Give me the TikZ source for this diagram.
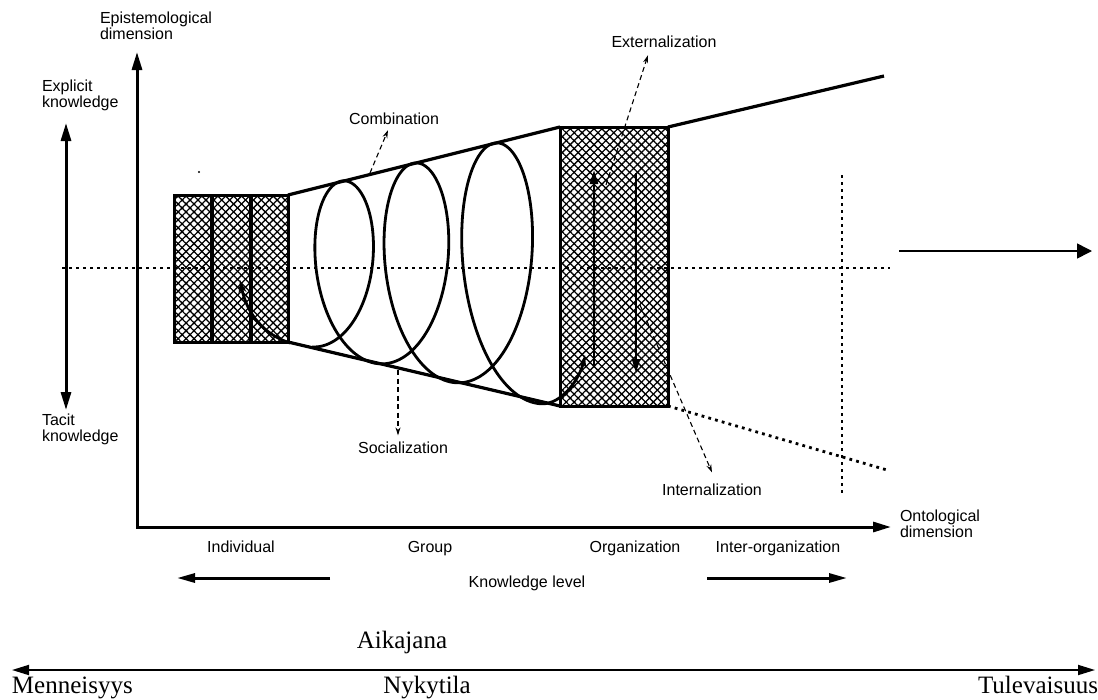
\documentclass[tikz,border=0pt]{standalone}
\usepackage{fontspec}
\setmainfont{Liberation Serif}
\setsansfont{Liberation Sans}
\usetikzlibrary{arrows.meta,patterns.meta}

\begin{document}
\begin{tikzpicture}[x=1pt, y=-1pt, font=\sffamily\fontsize{16}{16}\selectfont,
	every node/.style={inner sep=0pt, outer sep=0pt},
	lbl/.style={align=left},
	thickline/.style={line width=3.2pt},
	axis/.style={line width=3pt, {Triangle[length=18pt,width=10pt]}-{Triangle[length=18pt,width=10pt]}},
	dotline/.style={line width=2.8pt, dash pattern=on 2.8pt off 4.2pt},
	dasharrow/.style={line width=1.1pt, dash pattern=on 5pt off 3.5pt, -{Stealth[length=8pt,width=5pt]}},
	hatchbox/.style={draw, line width=3pt,
		preaction={pattern={Lines[angle=45,distance=5.6pt,line width=1.3pt]}},
		preaction={pattern={Lines[angle=-45,distance=5.6pt,line width=1.3pt]}}},
	spiral/.style={line width=2.8pt, line join=round, -{Stealth[length=13pt,width=8pt]}},
	orgarrow/.style={line width=2.4pt, -{Triangle[length=14pt,width=8pt]}},
	timefont/.style={font=\rmfamily\fontsize{25}{25}\selectfont},
	line join=miter]

	\useasboundingbox (0,0) rectangle (1098,699);

	% Laatikot
	\node[hatchbox, minimum width=114pt, minimum height=147pt] (indiv) at (231,268.5) {};
	\draw[thickline] ([xshift=38pt]indiv.north west) -- ([xshift=38pt]indiv.south west);
	\draw[thickline] ([xshift=77pt]indiv.north west) -- ([xshift=77pt]indiv.south west);
	\node[hatchbox, minimum width=108pt, minimum height=279pt] (orgbox) at (614,266.5) {};
	\fill (199,172) circle (1.2);

	% Kartio
	\coordinate (upend) at (884,76);
	\coordinate (lowend) at (887,470);
	\draw[thickline] (indiv.north east) -- (orgbox.north west);
	\draw[thickline] (indiv.south east) -- (orgbox.south west);
	\draw[thickline] (orgbox.north east) -- (upend);
	\draw[dotline] (orgbox.south east) -- (lowend);

	% Akselit
	\coordinate (origin) at (137,527);
	\coordinate (epitip) at (137,52);
	\coordinate (ontotip) at (891,527);
	\draw[axis] (epitip) -- (origin) -- (ontotip);
	\coordinate (exptip) at (66,123);
	\coordinate (tactip) at (66,410);
	\draw[axis] (exptip) -- (tactip);

	% Pisteviivat
	\coordinate (midleft) at (62,268);
	\coordinate (midright) at (890,268);
	\draw[dotline] (midleft) -- (midright);
	\coordinate (vtop) at (842,175);
	\coordinate (vbot) at (842,494);
	\draw[dotline] (vtop) -- (vbot);
	\coordinate (fwdstart) at (899,251);
	\coordinate (fwdend) at (1092,251);
	\draw[line width=1.6pt, -{Triangle[length=15pt,width=15pt]}] (fwdstart) -- (fwdend);

	% Spiraali
	\coordinate (spiralend) at (585,355);
	\draw[spiral] plot[variable=\u, domain=-1:5, samples=400, smooth]
		({345+34*\u+1.06*\u*\u-(45+2.5*\u)*sin(180*\u)}, {268-(73+0.248*(57+34*\u+1.06*\u*\u))*cos(180*\u)})
		.. controls (562,405) and (580,378) .. (spiralend);
	\coordinate (spiralstart) at (290,343);
	\coordinate (indivtip) at (240,280);
	\draw[spiral] (spiralstart) .. controls (265,335) and (247,315) .. (indivtip);
	\coordinate (upfrom) at (594,367);
	\coordinate (upto) at (594,170);
	\draw[orgarrow] (upfrom) -- (upto);
	\coordinate (downfrom) at (636,173);
	\coordinate (downto) at (636,373);
	\draw[orgarrow] (downfrom) -- (downto);

	% Tekstit
	\node[lbl, anchor=north west] (epi) at (100,12) {Epistemological\\dimension};
	\node[lbl, anchor=north west] (expl) at (42,80) {Explicit\\knowledge};
	\node[lbl, anchor=north west] (tacit) at (42,414) {Tacit\\knowledge};
	\node[lbl, anchor=north west] (onto) at (900,510) {Ontological\\dimension};

	\node[anchor=base] (comb) at (394,124) {Combination};
	\coordinate (combfrom) at (370,173);
	\draw[dasharrow] (combfrom) -- ([xshift=-6pt,yshift=-6pt]comb.south);
	\node[anchor=base] (ext) at (664,47) {Externalization};
	\coordinate (extfrom) at (606,185);
	\draw[dasharrow] (extfrom) -- ([xshift=-16pt,yshift=-8pt]ext.south);
	\node[anchor=base] (soc) at (403,453) {Socialization};
	\coordinate (socfrom) at (398,370);
	\draw[dasharrow] (socfrom) -- ([xshift=-5pt,yshift=6pt]soc.north);
	\node[anchor=base] (intl) at (712,495) {Internalization};
	\coordinate (intfrom) at (640,305);
	\draw[dasharrow] (intfrom) -- ([yshift=11pt]intl.north);

	\node[anchor=base] (ind) at (241,552) {Individual};
	\node[anchor=base] (grp) at (430,552) {Group};
	\node[anchor=base] (org) at (635,552) {Organization};
	\node[anchor=base] (inter) at (778,552) {Inter-organization};
	\node[anchor=base] (klev) at (527,587) {Knowledge level};
	\coordinate (klleft) at (177,578);
	\coordinate (klleftfrom) at (330,578);
	\draw[line width=3pt, -{Triangle[length=18pt,width=9pt]}] (klleftfrom) -- (klleft);
	\coordinate (klright) at (847,578);
	\coordinate (klrightfrom) at (707,578);
	\draw[line width=3pt, -{Triangle[length=18pt,width=9pt]}] (klrightfrom) -- (klright);

	% Aikajana
	\node[timefont, anchor=base] (aika) at (402,648) {Aikajana};
	\coordinate (past) at (12,670);
	\coordinate (future) at (1095,670);
	\draw[line width=1.8pt, {Triangle[length=17pt,width=10pt]}-{Triangle[length=17pt,width=10pt]}] (past) -- (future);
	\node[timefont, anchor=base west] (menn) at (12,693) {Menneisyys};
	\node[timefont, anchor=base] (nyky) at (427,693) {Nykytila};
	\node[timefont, anchor=base east] (tule) at (1098,693) {Tulevaisuus};
\end{tikzpicture}
\end{document}
